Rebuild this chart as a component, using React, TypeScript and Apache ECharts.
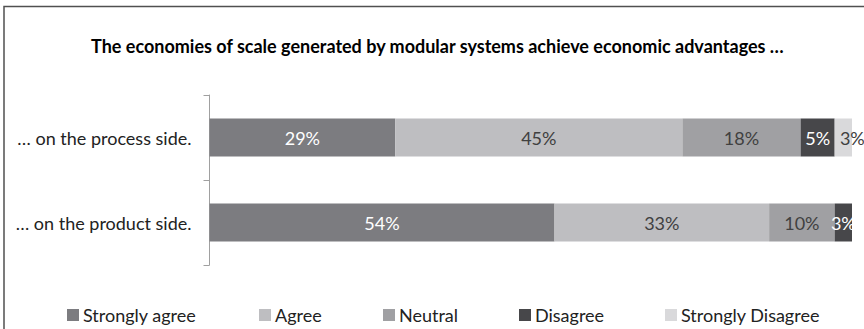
import React, { useEffect, useRef } from "react";
import * as echarts from "echarts";

const categories = ["… on the process side.", "… on the product side."];
const seriesNames = ["Strongly agree", "Agree", "Neutral", "Disagree", "Strongly Disagree"];
const stronglyAgree = [28.9, 53.7];
const agree = [44.7, 33.4];
const neutral = [18.4, 10.2];
const disagree = [5.3, 2.7];
const stronglyDisagree = [2.7, 0];
const colors = ["#7c7c80", "#bebec1", "#a0a0a3", "#47474a", "#d9d9db"];
const labelColors = ["#ffffff", "#404040", "#404040", "#ffffff", "#404040"];
const legendLeft = [67, 259, 383, 519, 665];

const FONT = "Lato";

export default function App() {
  const ref = useRef<HTMLDivElement>(null);
  useEffect(() => {
    if (!ref.current) return;
    const chart = echarts.init(ref.current, undefined, { renderer: "svg" });
    const values = [stronglyAgree, agree, neutral, disagree, stronglyDisagree];
    chart.setOption({
      animation: false,
      textStyle: { fontFamily: FONT },
      title: {
        text: "The economies of scale generated by modular systems achieve economic advantages …",
        left: 86,
        top: 32,
        textStyle: { fontFamily: FONT, fontWeight: "bold", fontSize: 18, color: "#000" },
      },
      graphic: [
        {
          type: "rect",
          shape: { x: 4, y: 6.5, width: 900, height: 400 },
          style: { fill: "none", stroke: "#505050", lineWidth: 1.5 },
          silent: true,
        },
      ],
      legend: seriesNames.map((n, i) => ({
        data: [n],
        left: legendLeft[i],
        top: 306,
        padding: 0,
        itemWidth: 12,
        itemHeight: 12,
        itemGap: 4,
        icon: "rect",
        textStyle: { fontFamily: FONT, fontSize: 18, color: "#222", padding: [0, 0, 0, -1] },
        selectedMode: false,
      })),
      grid: { left: 209.5, right: 12, top: 95, bottom: 64 },
      xAxis: { type: "value", min: 0, max: 100, show: false },
      yAxis: {
        type: "category",
        data: categories,
        inverse: true,
        axisLine: { lineStyle: { color: "#a0a0a0", width: 1 } },
        axisTick: { show: true, length: 6, lineStyle: { color: "#a0a0a0" } },
        axisLabel: { fontFamily: FONT, fontSize: 18, color: "#222", margin: 18 },
      },
      series: seriesNames.map((n, i) => ({
        name: n,
        type: "bar",
        stack: "total",
        barWidth: 38,
        itemStyle: { color: colors[i] },
        data: values[i],
        label: {
          show: true,
          position: "inside",
          offset: i === 4 ? [9, 0] : [0, 0],
          fontFamily: FONT,
          fontSize: 18,
          color: labelColors[i],
          formatter: (p: any) => (p.value > 0 ? Math.round(p.value) + "%" : ""),
        },
      })),
    });
    return () => chart.dispose();
  }, []);
  return <div ref={ref} style={{ width: 864, height: 329, position: "absolute", left: 0, top: 0 }} />;
}
